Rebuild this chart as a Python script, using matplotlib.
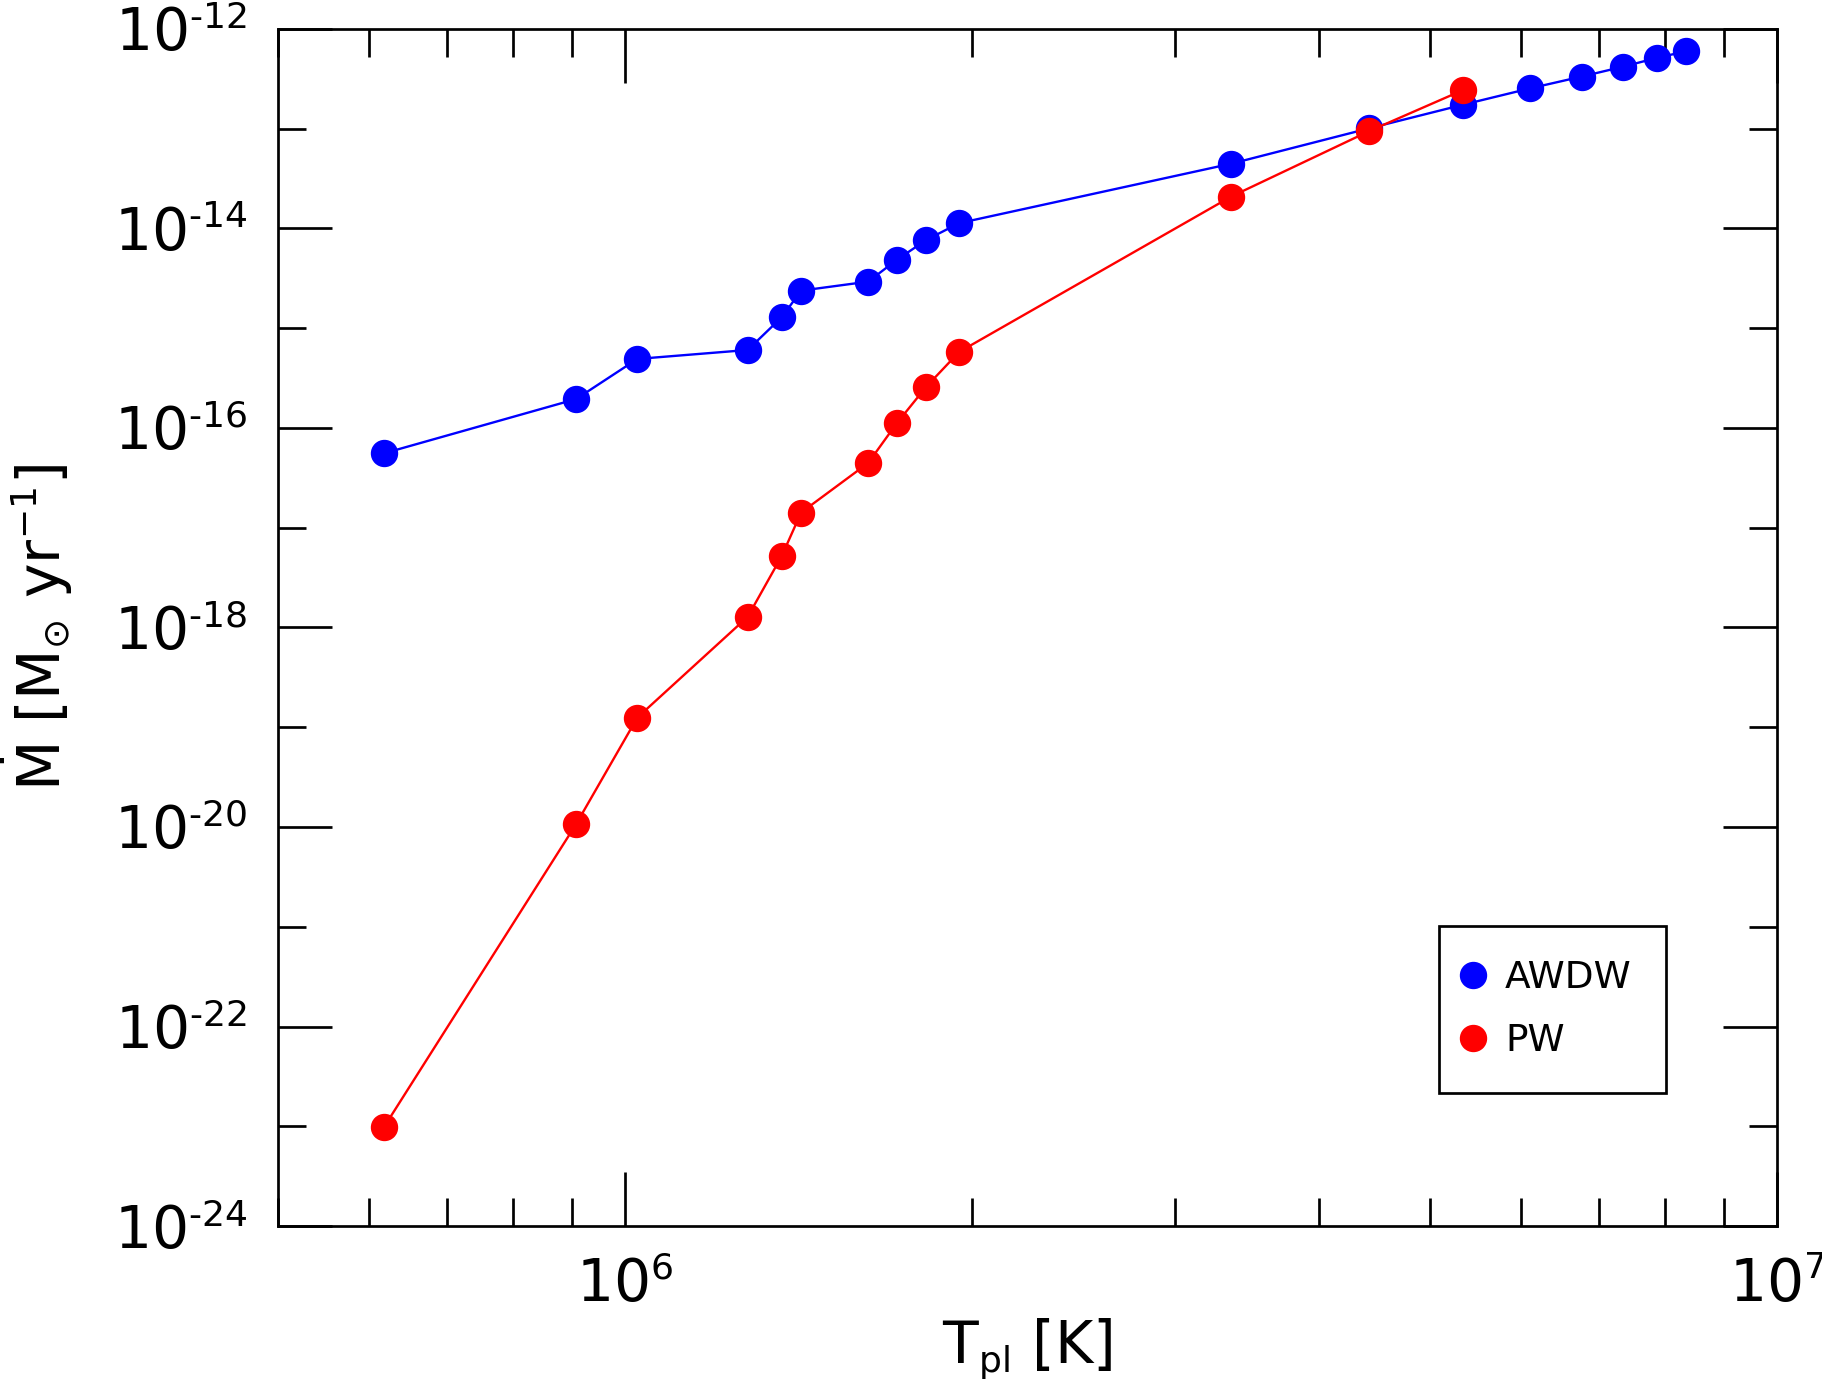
import matplotlib
matplotlib.use("Agg")
import matplotlib.pyplot as plt
import matplotlib._mathtext as _mt
from matplotlib.ticker import FixedLocator, NullFormatter, FixedFormatter
from matplotlib.lines import Line2D

_mt.SHRINK_FACTOR = 0.62

plt.rcParams['font.family'] = ['DejaVu Sans']
plt.rcParams['mathtext.fontset'] = 'dejavusans'
plt.rcParams['mathtext.default'] = 'regular'

# Data
T_awdw = [6.18e5, 9.07e5, 1.025e6, 1.278e6, 1.368e6, 1.422e6, 1.626e6, 1.721e6,
          1.826e6, 1.950e6, 3.357e6, 4.428e6, 5.340e6, 6.108e6, 6.767e6, 7.350e6,
          7.867e6, 8.334e6]
M_awdw = [5.58e-17, 1.95e-16, 4.92e-16, 6.05e-16, 1.29e-15, 2.38e-15, 2.93e-15,
          4.83e-15, 7.67e-15, 1.13e-14, 4.45e-14, 1.01e-13, 1.74e-13, 2.54e-13,
          3.33e-13, 4.18e-13, 5.13e-13, 5.96e-13]
T_pw = [6.18e5, 9.07e5, 1.025e6, 1.278e6, 1.368e6, 1.422e6, 1.626e6, 1.721e6,
        1.826e6, 1.950e6, 3.357e6, 4.428e6, 5.340e6]
M_pw = [9.9e-24, 1.07e-20, 1.25e-19, 1.28e-18, 5.21e-18, 1.42e-17, 4.46e-17,
        1.11e-16, 2.59e-16, 5.78e-16, 2.08e-14, 9.48e-14, 2.44e-13]

series_labels = ['AWDW', 'PW']
series_colors = ['#0000ff', '#ff0000']

x_major = [1e6, 1e7]
x_major_labels = [r'$10^{6}$', r'$10^{7}$']
x_minor = [5e5, 6e5, 7e5, 8e5, 9e5, 2e6, 3e6, 4e6, 5e6, 6e6, 7e6, 8e6, 9e6]
y_exps_major = [-24, -22, -20, -18, -16, -14, -12]
y_exps_minor = [-23, -21, -19, -17, -15, -13]

FS = 42

fig = plt.figure(figsize=(18.22, 13.91), dpi=100)
ax = fig.add_axes([0.1527, 0.1186, 0.8226, 0.8606])

ax.plot(T_awdw, M_awdw, '-o', color=series_colors[0], lw=1.7, ms=18.7,
        mec=series_colors[0], mfc=series_colors[0])
ax.plot(T_pw, M_pw, '-o', color=series_colors[1], lw=1.7, ms=18.7,
        mec=series_colors[1], mfc=series_colors[1])

ax.set_xscale('log')
ax.set_yscale('log')
ax.set_xlim(5e5, 1e7)
ax.set_ylim(1e-24, 1e-12)

ax.xaxis.set_major_locator(FixedLocator(x_major))
ax.xaxis.set_major_formatter(FixedFormatter(x_major_labels))
ax.xaxis.set_minor_locator(FixedLocator(x_minor))
ax.xaxis.set_minor_formatter(NullFormatter())

ax.yaxis.set_major_locator(FixedLocator([10.0 ** e for e in y_exps_major]))
ax.yaxis.set_major_formatter(FixedFormatter(
    [r'$10^{\text{-}%d}$' % (-e) for e in y_exps_major]))
ax.yaxis.set_minor_locator(FixedLocator([10.0 ** e for e in y_exps_minor]))
ax.yaxis.set_minor_formatter(NullFormatter())

ax.tick_params(which='both', direction='in', top=True, right=True,
               width=1.95, color='black')
ax.tick_params(which='major', length=39)
ax.tick_params(which='minor', length=20)
ax.tick_params(axis='x', which='major', labelsize=FS, pad=22)
ax.tick_params(axis='y', which='major', labelsize=FS, pad=22)

for s in ax.spines.values():
    s.set_linewidth(1.95)

ax.set_xlabel(r'T$_{pl}$ [K]', fontsize=FS, labelpad=2)
ax.set_ylabel(r'$\dot{M}$ [M$_{\odot}$ yr$^{-1}$]', fontsize=FS, labelpad=28)

handles = [Line2D([], [], ls='none', marker='o', ms=18.7, color=c, mec=c)
           for c in series_colors]
leg = ax.legend(handles, series_labels, loc='center',
                bbox_to_anchor=(0.8502, 0.1808), fontsize=27,
                frameon=True, fancybox=False, framealpha=1, borderpad=0.9,
                handlelength=0, handletextpad=0.85, labelspacing=0.74,
                borderaxespad=0)
leg.get_frame().set_edgecolor('black')
leg.get_frame().set_linewidth(1.95)

fig.savefig('out.png', dpi=100)
